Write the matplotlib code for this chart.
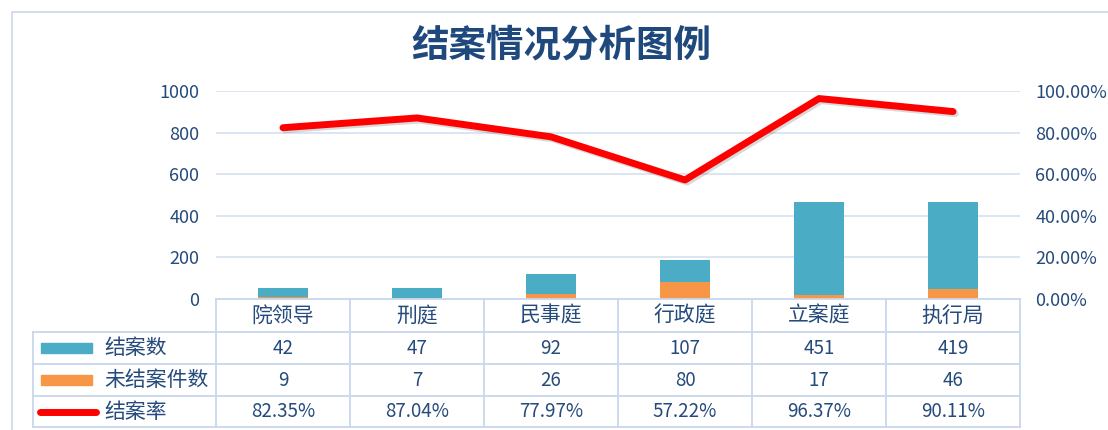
import matplotlib
matplotlib.use("Agg")
import matplotlib.pyplot as plt
import matplotlib.patheffects as pe
from matplotlib.lines import Line2D
from matplotlib.patches import Rectangle
import numpy as np

# ======== data ========
categories = ["院领导", "刑庭", "民事庭", "行政庭", "立案庭", "执行局"]
closed = [42, 47, 92, 107, 451, 419]          # 结案数
unclosed = [9, 7, 26, 80, 17, 46]             # 未结案件数
rate = [0.8235, 0.8704, 0.7797, 0.5722, 0.9637, 0.9011]  # 结案率
series_names = ["结案数", "未结案件数", "结案率"]
title = "结案情况分析图例"

# ======== style ========
teal = "#4BACC6"
orange = "#F79646"
red = "#FF0000"
navy = "#254A7C"
grid_c = "#D6E1F1"
border_c = "#C9D8EE"
plt.rcParams["font.family"] = ["Noto Sans CJK SC", "DejaVu Sans"]

W, H = 1108, 430
fig = plt.figure(figsize=(W / 100, H / 100), dpi=100)


def fx(px):
    return px / W


def fy(py):
    return 1 - py / H


# outer frame (extends past the right/bottom edge)
fig.add_artist(Rectangle((fx(12), fy(440)), fx(1200), fy(12) - fy(440),
                         transform=fig.transFigure, fill=False,
                         edgecolor=border_c, lw=1.2))

fig.text(fx(561), fy(45), title, ha="center", va="center",
         fontsize=27, fontweight="bold", color="#1F497D")

# plot area
left, right, top, bottom = 216, 1020, 91, 299
ax = fig.add_axes([fx(left), fy(bottom), fx(right - left), fy(top) - fy(bottom)])
x = np.arange(len(categories))
bw = 0.38
ax.bar(x, unclosed, bw, color=orange, zorder=2)
ax.bar(x, closed, bw, bottom=unclosed, color=teal, zorder=2)
ax.set_xlim(-0.5, len(categories) - 0.5)
ax.set_ylim(0, 1000)
ax.set_yticks(range(0, 1001, 200))
ax.set_xticks([])
ax.grid(axis="y", color=grid_c, lw=1.2, zorder=0)
ax.set_axisbelow(True)
for s in ax.spines.values():
    s.set_visible(False)
ax.tick_params(axis="y", length=0, pad=12, labelsize=13, labelcolor=navy)

ax2 = ax.twinx()
ax2.plot(x, rate, color=red, lw=5, solid_capstyle="round", solid_joinstyle="round",
         zorder=3,
         path_effects=[pe.SimpleLineShadow(offset=(1.5, -1.5), alpha=0.15),
                       pe.Normal()])
ax2.set_ylim(0, 1)
ax2.set_yticks(np.linspace(0, 1, 6))
ax2.set_yticklabels([f"{v * 100:.2f}%" for v in np.linspace(0, 1, 6)])
for s in ax2.spines.values():
    s.set_visible(False)
ax2.tick_params(axis="y", length=0, pad=11, labelsize=13, labelcolor=navy)

# data table
col_edges = np.linspace(left, right, len(categories) + 1)
row_edges = [299, 332, 364, 396, 427]
tab_left = 33
line_kw = dict(transform=fig.transFigure, color=border_c, lw=1.3)
fig.add_artist(Line2D([fx(left), fx(right)], [fy(row_edges[0])] * 2, **line_kw))
for ry in row_edges[1:]:
    fig.add_artist(Line2D([fx(tab_left), fx(right)], [fy(ry)] * 2, **line_kw))
for cx in col_edges:
    fig.add_artist(Line2D([fx(cx)] * 2, [fy(row_edges[0]), fy(row_edges[-1])], **line_kw))
fig.add_artist(Line2D([fx(tab_left)] * 2, [fy(row_edges[1]), fy(row_edges[-1])], **line_kw))

centers = (col_edges[:-1] + col_edges[1:]) / 2
row_mid = [(row_edges[i] + row_edges[i + 1]) / 2 for i in range(4)]
for cx, cat in zip(centers, categories):
    fig.text(fx(cx), fy(row_mid[0]), cat, ha="center", va="center", fontsize=15, color=navy)
rows = [[str(v) for v in closed], [str(v) for v in unclosed],
        [f"{v * 100:.2f}%" for v in rate]]
for r, vals in enumerate(rows):
    for cx, v in zip(centers, vals):
        fig.text(fx(cx), fy(row_mid[r + 1]), v, ha="center", va="center",
                 fontsize=13.5, color=navy)

# legend keys in the table
for r, (name, col) in enumerate(zip(series_names[:2], [teal, orange])):
    ym = row_mid[r + 1]
    fig.add_artist(Rectangle((fx(41), fy(ym + 5)), fx(51), fy(ym - 5) - fy(ym + 5),
                             transform=fig.transFigure, color=col))
ym = row_mid[3]
fig.add_artist(Line2D([fx(40), fx(96)], [fy(ym)] * 2, transform=fig.transFigure,
                      color=red, lw=5, solid_capstyle="round"))
for r, name in enumerate(series_names):
    fig.text(fx(104), fy(row_mid[r + 1]), name, ha="left", va="center",
             fontsize=15, color=navy)

fig.savefig("out.png", dpi=100)
